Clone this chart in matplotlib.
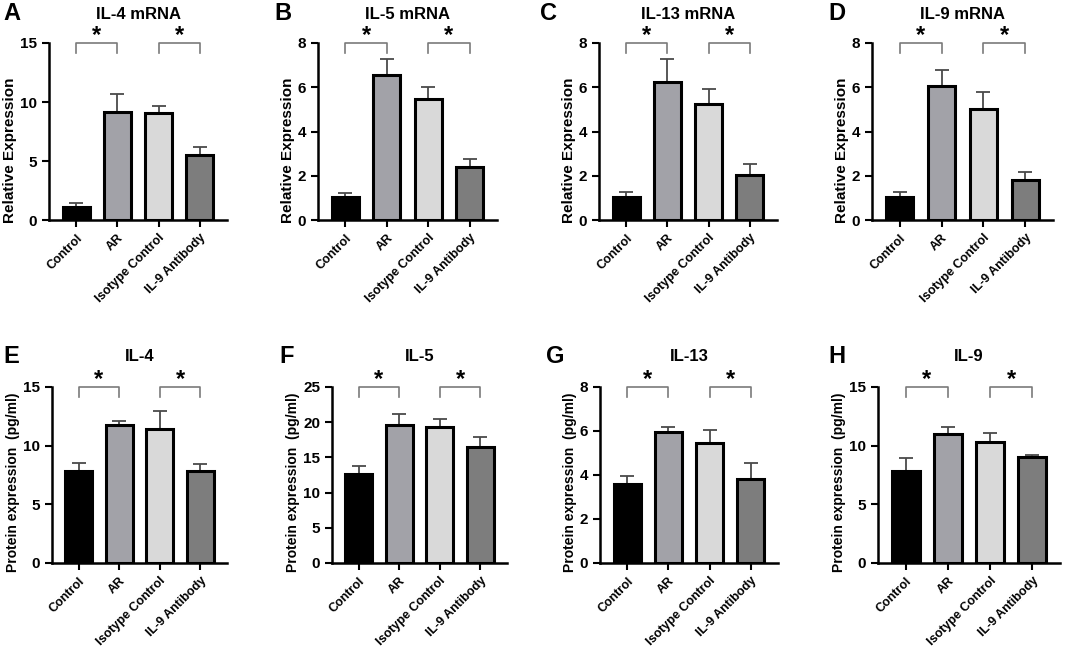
import numpy as np
import matplotlib
matplotlib.use("Agg")
import matplotlib.pyplot as plt

plt.rcParams['font.family'] = ['Liberation Sans', 'DejaVu Sans']
plt.rcParams['font.weight'] = 'bold'

groups = ["Control", "AR", "Isotype Control", "IL-9 Antibody"]
bar_colors = ["#000000", "#a2a2a8", "#d9d9d9", "#7d7d7d"]

# panel data: means and SD (upper error)
il4_mrna_mean = [1.08, 9.12, 9.04, 5.47]
il4_mrna_sd = [0.39, 1.53, 0.65, 0.71]
il5_mrna_mean = [1.03, 6.55, 5.48, 2.39]
il5_mrna_sd = [0.18, 0.72, 0.55, 0.37]
il13_mrna_mean = [1.06, 6.22, 5.25, 2.05]
il13_mrna_sd = [0.21, 1.06, 0.68, 0.49]
il9_mrna_mean = [1.06, 6.05, 5.00, 1.81]
il9_mrna_sd = [0.22, 0.71, 0.77, 0.35]
il4_prot_mean = [7.87, 11.72, 11.46, 7.87]
il4_prot_sd = [0.68, 0.37, 1.50, 0.54]
il5_prot_mean = [12.69, 19.65, 19.32, 16.50]
il5_prot_sd = [1.14, 1.55, 1.18, 1.35]
il13_prot_mean = [3.59, 5.95, 5.45, 3.83]
il13_prot_sd = [0.38, 0.23, 0.61, 0.72]
il9_prot_mean = [7.87, 11.02, 10.31, 9.00]
il9_prot_sd = [1.08, 0.57, 0.74, 0.23]

titles = ["IL-4 mRNA", "IL-5 mRNA", "IL-13 mRNA", "IL-9 mRNA",
          "IL-4", "IL-5", "IL-13", "IL-9"]
letters = ["A", "B", "C", "D", "E", "F", "G", "H"]
ymaxes = [15, 8, 8, 8, 15, 25, 8, 15]
ysteps = [5, 2, 2, 2, 5, 5, 2, 5]
means = [il4_mrna_mean, il5_mrna_mean, il13_mrna_mean, il9_mrna_mean,
         il4_prot_mean, il5_prot_mean, il13_prot_mean, il9_prot_mean]
sds = [il4_mrna_sd, il5_mrna_sd, il13_mrna_sd, il9_mrna_sd,
       il4_prot_sd, il5_prot_sd, il13_prot_sd, il9_prot_sd]
ylabels = ["Relative Expression"] * 4 + ["Protein expression  (pg/ml)"] * 4

W, H = 1065, 652
fig = plt.figure(figsize=(W / 100, H / 100), dpi=100)

# axes pixel boxes (left, right, top, bottom)
boxes = [(49, 227, 43, 220), (318, 497, 43, 220), (599, 777, 43, 220), (872, 1053, 43, 220),
         (52, 227, 387, 563), (332, 507, 387, 563), (600, 778, 387, 563), (878, 1060, 387, 563)]
letter_pos = [(3, 14), (274, 14), (540, 14), (828, 14),
              (3, 357), (279, 357), (546, 357), (828, 357)]

x = np.arange(len(groups))
for i in range(8):
    l, r, t, b = boxes[i]
    ax = fig.add_axes([l / W, 1 - b / H, (r - l) / W, (b - t) / H])
    ax.bar(x, means[i], width=0.66, color=bar_colors, edgecolor="black", linewidth=2.2, zorder=3)
    ax.errorbar(x, means[i], yerr=[np.zeros(4), sds[i]], fmt="none", ecolor="#4a4a4a",
                elinewidth=1.3, capsize=5, capthick=1.3, zorder=2)
    ax.set_xlim(-0.66, 3.66)
    ax.set_ylim(0, ymaxes[i])
    ax.set_yticks(np.arange(0, ymaxes[i] + 0.01, ysteps[i]))
    ax.set_xticks(x)
    ax.set_xticklabels(groups, rotation=45, ha="right", rotation_mode="anchor",
                       fontsize=9, fontweight="bold")
    ax.tick_params(axis="both", width=1.5, length=5)
    ax.tick_params(axis="y", labelsize=11)
    for lab in ax.get_yticklabels():
        lab.set_fontweight("bold")
    for s in ["top", "right"]:
        ax.spines[s].set_visible(False)
    for s in ["left", "bottom"]:
        ax.spines[s].set_linewidth(1.8)
    ax.set_ylabel(ylabels[i], fontsize=11 if i < 4 else 10, fontweight="bold", labelpad=2)
    ax.yaxis.label.set_y(0.393 if i < 4 else 0.457)
    ax.set_title(titles[i], fontsize=12, fontweight="bold", pad=17 if i < 4 else 19)
    # significance brackets
    ytop = ymaxes[i]
    leg = ymaxes[i] * 0.057
    for (a, c) in [(0, 1), (2, 3)]:
        ax.plot([a, a, c, c], [ytop - leg, ytop, ytop, ytop - leg], color="#7a7a7a",
                linewidth=1.2, clip_on=False, zorder=4)
        ax.annotate("*", xy=((a + c) / 2, ytop), xytext=(0, -3), textcoords="offset points",
                    ha="center", va="bottom", fontsize=17, fontweight="bold",
                    annotation_clip=False)
    lx, ly = letter_pos[i]
    fig.text(lx / W, 1 - ly / H, letters[i], fontsize=17, fontweight="bold",
             ha="left", va="center")

fig.savefig("out.png", dpi=100)
